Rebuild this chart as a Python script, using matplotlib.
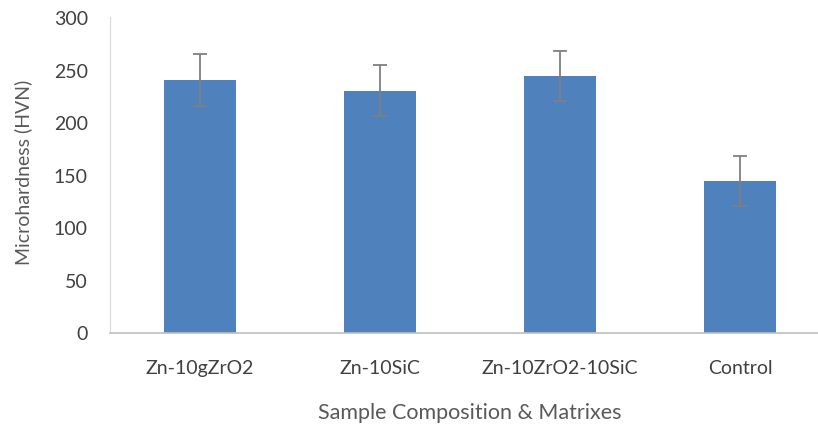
import matplotlib.pyplot as plt

plt.rcParams['font.family'] = ['Lato', 'DejaVu Sans']

samples = ['Zn-10gZrO2', 'Zn-10SiC', 'Zn-10ZrO2-10SiC', 'Control']
hardness = [240, 230, 244, 144]
errors = [24.5, 24, 24, 24]

W, H = 818, 427
fig = plt.figure(figsize=(W / 100, H / 100), dpi=100)
ax = fig.add_axes([110 / W, 1 - 333.5 / H, 720 / W, 315.5 / H])

x = range(len(samples))
ax.bar(x, hardness, width=0.4, color='#4F81BD', zorder=2)
ax.errorbar(x, hardness, yerr=errors, fmt='none', ecolor='#7f7f7f',
            elinewidth=1.3, capsize=5, capthick=1.3, zorder=3)

ax.set_xlim(-0.5, 3.5)
ax.set_ylim(0, 300)
ax.set_yticks(range(0, 301, 50))
ax.set_xticks(list(x))
ax.set_xticklabels(samples)

for s in ['top', 'right']:
    ax.spines[s].set_visible(False)
ax.spines['left'].set_color('#d9d9d9')
ax.spines['bottom'].set_color('#bfbfbf')
ax.spines['bottom'].set_linewidth(1.2)
ax.tick_params(axis='both', length=0, labelsize=14, colors='#404040')
ax.tick_params(axis='y', pad=16)
ax.tick_params(axis='x', pad=19)

ax.set_ylabel('Microhardness (HVN)', fontsize=14, color='#595959')
ax.yaxis.set_label_coords(-78 / 720, 0.51)
ax.set_xlabel('Sample Composition & Matrixes', fontsize=15.5, color='#595959')
ax.xaxis.set_label_coords(360 / 720, -69.5 / 315.5)

fig.savefig('out.png', dpi=100)
